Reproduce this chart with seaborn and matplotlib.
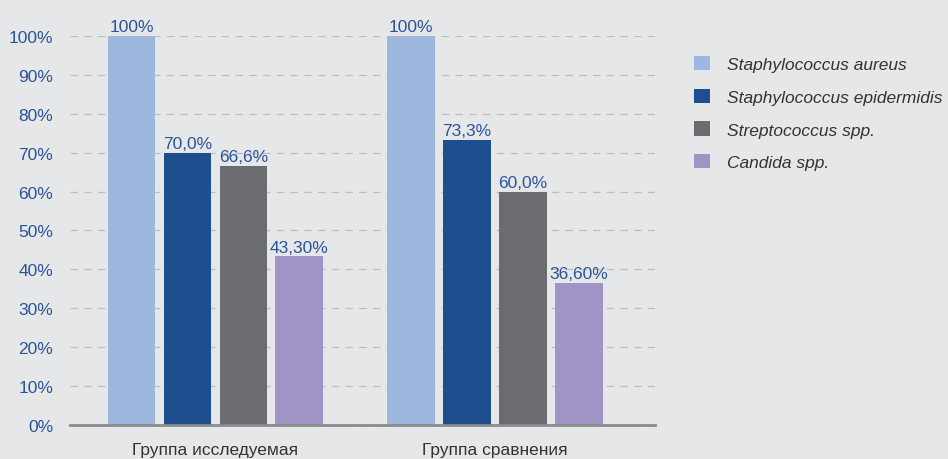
import pandas as pd
import matplotlib.pyplot as plt
import seaborn as sns

groups = ["Группа исследуемая", "Группа сравнения"]
species = ["Staphylococcus aureus", "Staphylococcus epidermidis",
           "Streptococcus spp.", "Candida spp."]
study_vals = [100, 70.0, 66.6, 43.3]
control_vals = [100, 73.3, 60.0, 36.6]
study_labels = ["100%", "70,0%", "66,6%", "43,30%"]
control_labels = ["100%", "73,3%", "60,0%", "36,60%"]
palette = ["#9db7df", "#1f4e8f", "#6b6c70", "#a093c6"]

df = pd.DataFrame({
    "group": [groups[0]] * 4 + [groups[1]] * 4,
    "species": species * 2,
    "value": study_vals + control_vals,
})

sns.set_style("white")
plt.rcParams["font.family"] = ["Liberation Sans", "DejaVu Sans"]

bg = "#e6e7e9"
blue_txt = "#2a5398"

fig = plt.figure(figsize=(9.48, 4.6), dpi=100, facecolor=bg)
ax = fig.add_axes([0.0738, 0.0739, 0.617, 0.846])
ax.set_facecolor(bg)

sns.barplot(data=df, x="group", y="value", hue="species", palette=palette,
            hue_order=species, order=groups, width=0.8, gap=0.15,
            saturation=1, linewidth=0, edgecolor="none",
            ax=ax, legend=True, zorder=3)

# value labels
for i, cont in enumerate(ax.containers):
    labs = [study_labels[i], control_labels[i]]
    ax.bar_label(cont, labels=labs, padding=1, color=blue_txt, fontsize=12.5)

ax.set_ylim(0, 100)
ax.set_xlim(-0.52, 1.572)
ax.set_yticks(range(0, 101, 10))
ax.set_yticklabels([f"{v}%" for v in range(0, 101, 10)])
ax.tick_params(axis="y", colors=blue_txt, labelsize=12.5, length=0, pad=12)
ax.tick_params(axis="x", colors="#333333", labelsize=12.5, length=0, pad=12)
ax.set_xlabel("")
ax.set_ylabel("")
ax.yaxis.grid(True, linestyle=(0, (6, 5)), color="#bdbec0", linewidth=0.9, zorder=0)
ax.set_axisbelow(True)
for s in ["top", "right", "left"]:
    ax.spines[s].set_visible(False)
ax.spines["bottom"].set_color("#8a8b8d")
ax.spines["bottom"].set_linewidth(2)
ax.spines["bottom"].set_zorder(4)

handles, labels = ax.get_legend_handles_labels()
ax.legend_.remove()
fig.legend(handles, labels, loc="upper left", bbox_to_anchor=(0.716, 0.91),
           frameon=False, prop={"style": "italic", "size": 12.5},
           handlelength=0.9, handleheight=0.9, handletextpad=1.0,
           labelspacing=0.95, labelcolor="#333333")

fig.savefig("out.png", dpi=100, facecolor=bg)
